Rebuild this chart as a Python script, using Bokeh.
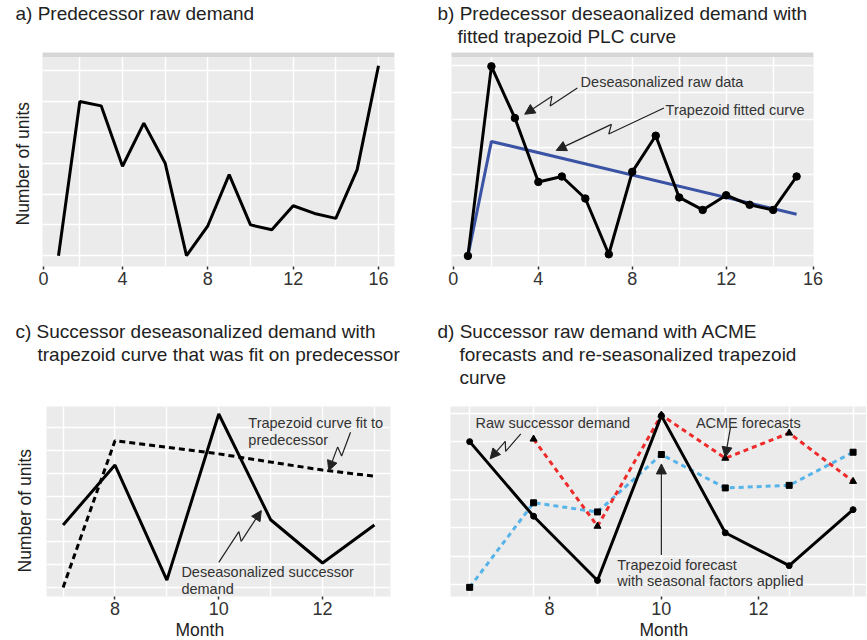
from math import hypot
from bokeh.plotting import figure
from bokeh.layouts import column, row
from bokeh.models import FixedTicker, Title, Arrow, NormalHead, BoxAnnotation, Range1d
from bokeh.core.properties import value
from bokeh.embed import file_html
from bokeh.resources import INLINE

FONT = "Liberation Sans"

# ---------------- data ----------------
# a) predecessor raw demand
a_month = [1, 2, 3, 4, 5, 6, 7, 8, 9, 10, 11, 12, 13, 14, 15, 16]
a_units = [0.0, 5.0, 4.86, 2.9, 4.3, 3.0, 0.0, 0.97, 2.63, 1.0, 0.84, 1.62, 1.37, 1.21, 2.79, 6.16]
a_xtick_pos = [0.3, 4, 8, 12, 16]
a_xtick_lab = ["0", "4", "8", "12", "16"]

# b) predecessor deseasonalized demand + trapezoid fit
b_month = [1, 2, 3, 4, 5, 6, 7, 8, 9, 10, 11, 12, 13, 14, 15]
b_deseason = [0.0, 6.97, 5.07, 2.72, 2.92, 2.11, 0.06, 3.09, 4.42, 2.15, 1.69, 2.23, 1.88, 1.69, 2.92]
b_trap_month = [1, 2, 15]
b_trap = [0.0, 4.21, 1.53]
b_xtick_pos = [0.38, 4, 8, 12, 15.7]
b_xtick_lab = ["0", "4", "8", "12", "16"]

# c) successor deseasonalized demand + trapezoid from predecessor
c_month = [7, 8, 9, 10, 11, 12, 13]
c_deseason = [2.74, 5.37, 0.32, 7.61, 2.97, 1.07, 2.74]
c_trap = [0.0, 6.44, 6.15, 5.86, 5.5, 5.15, 4.88]
c_xtick_pos = [8, 10, 12]
c_xtick_lab = ["8", "10", "12"]

# d) successor raw demand, ACME forecasts, re-seasonalized trapezoid
d_month = [7, 8, 9, 10, 11, 12, 13]
d_raw = [5.01, 2.40, 0.15, 5.92, 1.82, 0.67, 2.63]
d_acme_month = [8, 9, 10, 11, 12, 13]
d_acme = [5.10, 2.05, 5.94, 4.43, 5.31, 3.62]
d_trap = [-0.09, 2.87, 2.55, 4.56, 3.39, 3.48, 4.64]
d_xtick_pos = [8.25, 10, 11.52]
d_xtick_lab = ["8", "10", "12"]

TXT = "#333333"
TITLE_C = "#222222"


def make_fig(w, h, xr, yr, bl, br, bt, bb, xgrid, ygrid, xt_pos, xt_lab):
    p = figure(width=w, height=h, x_range=Range1d(*xr), y_range=Range1d(*yr),
               output_backend="svg", toolbar_location=None, title=None,
               min_border_left=bl, min_border_right=br, min_border_top=bt, min_border_bottom=bb)
    p.background_fill_color = "#EBEBEB"
    p.border_fill_color = "white"
    p.outline_line_color = None
    p.xgrid.ticker = FixedTicker(ticks=xgrid)
    p.ygrid.ticker = FixedTicker(ticks=ygrid)
    for g in (p.xgrid, p.ygrid):
        g.grid_line_color = "white"
        g.grid_line_width = 1.4
    p.xaxis.ticker = FixedTicker(ticks=xt_pos)
    p.xaxis.major_label_overrides = {t: l for t, l in zip(xt_pos, xt_lab)}
    p.xaxis.axis_line_color = None
    p.xaxis.major_tick_line_color = "#333333"
    p.xaxis.major_tick_line_width = 1.5
    p.xaxis.major_tick_out = 3
    p.xaxis.major_tick_in = 0
    p.xaxis.minor_tick_line_color = None
    p.xaxis.major_label_text_font = FONT
    p.xaxis.major_label_text_font_size = "18px"
    p.xaxis.major_label_text_color = TXT
    p.xaxis.major_label_standoff = 2
    p.yaxis.visible = False
    return p


def add_titles(p, lines, offsets, gap):
    # spacer between the frame and the nearest title line
    p.add_layout(Title(text=" ", text_font_size="1px", standoff=max(gap - 1, 0)), "above")
    for i in range(len(lines) - 1, -1, -1):
        p.add_layout(Title(text=lines[i], align="left", offset=offsets[i],
                           text_font=FONT, text_font_size="19px", text_font_style="normal",
                           text_color=TITLE_C, standoff=0), "above")


def ylabel(p, offset, standoff):
    p.add_layout(Title(text="Number of units", align="left", offset=offset, text_font=FONT,
                       text_font_size="17.5px", text_font_style="normal",
                       text_color=TITLE_C, standoff=standoff), "left")


def xlabel(p, offset):
    p.add_layout(Title(text="Month", align="left", offset=offset, text_font=FONT,
                       text_font_size="17.5px", text_font_style="normal",
                       text_color=TITLE_C, standoff=0), "below")


def zig_arrow(p, x0, y0, x1, y1, sx, sy, zig=True, amp=4.0):
    X0, Y0, X1, Y1 = x0 * sx, y0 * sy, x1 * sx, y1 * sy
    dx, dy = X1 - X0, Y1 - Y0
    L = hypot(dx, dy)
    ux, uy = dx / L, dy / L
    nx, ny = -uy, ux
    mx, my = (X0 + X1) / 2, (Y0 + Y1) / 2
    xs, ys = x0, y0
    if zig:
        ax, ay = mx + ux * 3 + nx * amp, my + uy * 3 + ny * amp
        bx, by = mx - ux * 3 - nx * amp, my - uy * 3 - ny * amp
        p.line([x0, ax / sx, bx / sx], [y0, ay / sy, by / sy], line_color="#222222", line_width=1.2)
        xs, ys = bx / sx, by / sy
    p.add_layout(Arrow(end=NormalHead(size=10, fill_color="#222222", line_color="#222222", line_width=1),
                       x_start=xs, y_start=ys, x_end=x1, y_end=y1,
                       line_color="#222222", line_width=1.2))


def note(p, xs, ys, texts):
    p.text(x=xs, y=ys, text=texts, text_font=value(FONT), text_font_size="14.5px",
           text_baseline="middle", text_align="left", text_color=TXT)


def strip(p, yr, frame_h):
    sy = frame_h / (yr[1] - yr[0])
    p.add_layout(BoxAnnotation(bottom=yr[1] - 4.5 / sy, fill_color="#D6D6D6", fill_alpha=1.0,
                               line_alpha=0))


ROW1_H, ROW2_H = 296, 343
F1_H, F2_H = 214, 190

# ---------------- panel a ----------------
a_xr, a_yr = (0.25, 16.75), (-0.35, 6.59)
pa = make_fig(430, ROW1_H, a_xr, a_yr, 42, 36, 52, 30,
              [2, 4, 6, 8, 10, 12, 14, 16], [0, 1, 2, 3, 4, 5, 6], a_xtick_pos, a_xtick_lab)
add_titles(pa, ["a) Predecessor raw demand"], [-27], 27)
ylabel(pa, 41, 20)
strip(pa, a_yr, F1_H)
pa.line(a_month, a_units, line_color="black", line_width=3)

# ---------------- panel b ----------------
b_xr, b_yr = (0.30, 15.72), (-0.39, 7.48)
pb = make_fig(436, ROW1_H, b_xr, b_yr, 21, 53, 52, 30,
              [2, 4, 6, 8, 10, 12, 14], [0, 1, 2, 3, 4, 5, 6, 7], b_xtick_pos, b_xtick_lab)
add_titles(pb, ["b) Predecessor deseaonalized demand with", "fitted trapezoid PLC curve"], [-14, 6], 4)
strip(pb, b_yr, F1_H)
pb.line(b_trap_month, b_trap, line_color="#3A53A4", line_width=3)
pb.line(b_month, b_deseason, line_color="black", line_width=3)
pb.scatter(b_month, b_deseason, size=7.5, color="black")
b_sx, b_sy = 362 / (b_xr[1] - b_xr[0]), F1_H / (b_yr[1] - b_yr[0])
note(pb, [5.80, 9.42], [6.38, 5.37], ["Deseasonalized raw data", "Trapezoid fitted curve"])
zig_arrow(pb, 5.66, 6.17, 3.42, 5.21, b_sx, b_sy)
zig_arrow(pb, 9.35, 5.44, 4.76, 3.88, b_sx, b_sy)

# ---------------- panel c ----------------
c_xr, c_yr = (6.68, 13.31), (-0.40, 7.94)
pc = make_fig(430, ROW2_H, c_xr, c_yr, 44, 40, 110, 43,
              [7, 8, 9, 10, 11, 12, 13], [0, 1, 2, 3, 4, 5, 6, 7], c_xtick_pos, c_xtick_lab)
add_titles(pc, ["c) Successor deseasonalized demand with",
                "trapezoid curve that was fit on predecessor"], [-31, -9], 40)
ylabel(pc, 24, 24)
xlabel(pc, 129)
pc.line(c_month, c_trap, line_color="black", line_width=3, line_dash="6 4")
pc.line(c_month, c_deseason, line_color="black", line_width=3)
c_sx, c_sy = 346 / (c_xr[1] - c_xr[0]), F2_H / (c_yr[1] - c_yr[0])
note(pc, [10.57, 10.57, 9.28, 9.28], [7.22, 6.47, 0.66, -0.07],
     ["Trapezoid curve fit to", "predecessor", "Deseasonalized successor", "demand"])
zig_arrow(pc, 12.54, 6.81, 12.12, 5.12, c_sx, c_sy)
zig_arrow(pc, 10.0, 1.10, 10.82, 3.37, c_sx, c_sy)

# ---------------- panel d ----------------
d_xr, d_yr = (6.70, 13.21), (-0.41, 6.24)
pd_ = make_fig(436, ROW2_H, d_xr, d_yr, 20, 0, 110, 43,
               [7, 8, 9, 10, 11, 12, 13], [0, 1, 2, 3, 4, 5, 6], d_xtick_pos, d_xtick_lab)
add_titles(pd_, ["d) Successor raw demand with ACME",
                 "forecasts and re-seasonalized trapezoid", "curve"], [-13, 9, 9], 17)
xlabel(pd_, 189)
pd_.line(d_month, d_trap, line_color="#56B4E9", line_width=3, line_dash="5 4")
pd_.scatter(d_month, d_trap, size=6, marker="square", color="black")
pd_.line(d_acme_month, d_acme, line_color="#EE2A2A", line_width=3, line_dash="5 4")
pd_.scatter(d_acme_month, d_acme, size=7, marker="triangle", color="black")
pd_.line(d_month, d_raw, line_color="black", line_width=3)
pd_.scatter(d_month, d_raw, size=6, color="black")
d_sx, d_sy = 416 / (d_xr[1] - d_xr[0]), F2_H / (d_yr[1] - d_yr[0])
note(pd_, [7.09, 10.54, 9.31, 9.31], [5.66, 5.66, 0.70, 0.12],
     ["Raw successor demand", "ACME forecasts", "Trapezoid forecast", "with seasonal factors applied"])
zig_arrow(pd_, 7.80, 5.28, 7.32, 4.41, d_sx, d_sy)
zig_arrow(pd_, 11.08, 5.49, 11.0, 4.47, d_sx, d_sy, zig=False)
zig_arrow(pd_, 10.0, 1.04, 10.0, 4.23, d_sx, d_sy, zig=False)

layout = column(row(pa, pb), row(pc, pd_))
open("out.html", "w").write(file_html(layout, INLINE))
